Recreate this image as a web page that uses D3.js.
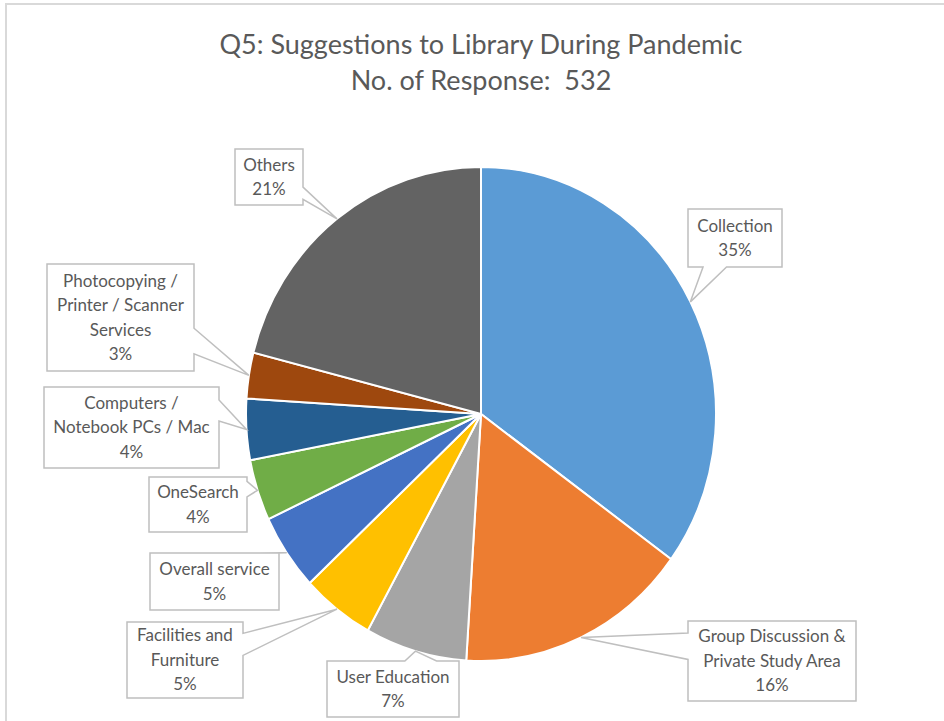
<!DOCTYPE html>
<html>
<head>
<meta charset="utf-8">
<script src="https://cdn.jsdelivr.net/npm/d3@7"></script>
<style>
  html, body { margin: 0; padding: 0; background: #fff; }
  svg { display: block; }
</style>
</head>
<body>
<div id="chart"></div>
<script>
// Data (clockwise from 12 o'clock)
const categories = [
    "Collection",
    "Group Discussion & Private Study Area",
    "User Education",
    "Facilities and Furniture",
    "Overall service",
    "OneSearch",
    "Computers / Notebook PCs / Mac",
    "Photocopying / Printer / Scanner Services",
    "Others"
];
const percents = [35, 16, 7, 5, 5, 4, 4, 3, 21];
const labelLines = [
    ["Collection"],
    ["Group Discussion &", "Private Study Area"],
    ["User Education"],
    ["Facilities and", "Furniture"],
    ["Overall service"],
    ["OneSearch"],
    ["Computers /", "Notebook PCs / Mac"],
    ["Photocopying /", "Printer / Scanner", "Services"],
    ["Others"]
];
const titleLines = ["Q5: Suggestions to Library During Pandemic", "No. of Response:  532"];

// Styling / layout
const colors = ["#5B9BD5", "#ED7D31", "#A5A5A5", "#FFC000", "#4472C4",
                "#70AD47", "#255E91", "#9E480E", "#636363"];
const width = 944, height = 721;
const cx = 481, cy = 414, rx = 235, ry = 247;

// callout boxes: x, y, w, h, side the pointer leaves from, pointer base fractions
const callouts = [
    { x: 688, y: 209, w: 94,  h: 58,  side: "bottom", base: [0.16, 0.41] },
    { x: 688, y: 621, w: 168, h: 80,  side: "left",   base: [0.15, 0.48] },
    { x: 327, y: 661, w: 132, h: 56,  side: "top",    base: [0.59, 0.83] },
    { x: 127, y: 622, w: 116, h: 76,  side: "right",  base: [0.15, 0.44] },
    { x: 150, y: 553, w: 129, h: 57,  side: "top",    base: [0.84, 0.99] },
    { x: 149, y: 477, w: 98,  h: 55,  side: "right",  base: [0.08, 0.36] },
    { x: 44,  y: 387, w: 175, h: 81,  side: "right",  base: [0.16, 0.42] },
    { x: 47,  y: 264, w: 147, h: 107, side: "right",  base: [0.6, 0.84] },
    { x: 235, y: 149, w: 68,  h: 56,  side: "right",  base: [0.68, 0.9] }
];

const font = "Lato, 'Open Sans', sans-serif";
const textColor = "#595959";

const svg = d3.select("#chart").append("svg")
    .attr("width", width)
    .attr("height", height);

// chart frame
svg.append("rect")
    .attr("x", 6).attr("y", 4)
    .attr("width", width + 20).attr("height", height + 20)
    .attr("fill", "#fff")
    .attr("stroke", "#d9d9d9")
    .attr("stroke-width", 2);

// title
svg.append("g").selectAll("text")
    .data(titleLines)
    .enter().append("text")
    .attr("x", 481)
    .attr("y", (d, i) => 54 + i * 36)
    .attr("text-anchor", "middle")
    .attr("font-family", font)
    .attr("font-size", 27)
    .attr("fill", textColor)
    .style("white-space", "pre")
    .text(d => d);

// pie
const pie = d3.pie().sort(null).value(d => d);
const arcs = pie(percents);
const arc = d3.arc().innerRadius(0).outerRadius(rx);

svg.append("g")
    .attr("transform", `translate(${cx},${cy}) scale(1,${ry / rx})`)
    .selectAll("path")
    .data(arcs)
    .enter().append("path")
    .attr("d", arc)
    .attr("fill", (d, i) => colors[i])
    .attr("stroke", "#fff")
    .attr("stroke-width", 2)
    .attr("vector-effect", "non-scaling-stroke");

// callout shape: rectangle with a wedge going to the anchor
function calloutPath(c, ax, ay) {
    const x0 = c.x, y0 = c.y, x1 = c.x + c.w, y1 = c.y + c.h;
    const pts = [];
    pts.push([x0, y0]);
    if (c.side === "top") {
        pts.push([x0 + c.base[0] * c.w, y0], [ax, ay], [x0 + c.base[1] * c.w, y0]);
    }
    pts.push([x1, y0]);
    if (c.side === "right") {
        pts.push([x1, y0 + c.base[0] * c.h], [ax, ay], [x1, y0 + c.base[1] * c.h]);
    }
    pts.push([x1, y1]);
    if (c.side === "bottom") {
        pts.push([x0 + c.base[1] * c.w, y1], [ax, ay], [x0 + c.base[0] * c.w, y1]);
    }
    pts.push([x0, y1]);
    if (c.side === "left") {
        pts.push([x0, y0 + c.base[1] * c.h], [ax, ay], [x0, y0 + c.base[0] * c.h]);
    }
    return "M" + pts.map(p => p.join(",")).join("L") + "Z";
}

const labels = svg.append("g")
    .selectAll("g")
    .data(arcs)
    .enter().append("g");

labels.append("path")
    .attr("d", (d, i) => {
        const a = (d.startAngle + d.endAngle) / 2;
        const ax = cx + rx * Math.sin(a);
        const ay = cy - ry * Math.cos(a);
        return calloutPath(callouts[i], ax, ay);
    })
    .attr("fill", "#fff")
    .attr("stroke", "#bfbfbf")
    .attr("stroke-width", 1.5)
    .attr("stroke-linejoin", "miter");

labels.each(function(d, i) {
    const c = callouts[i];
    const lines = labelLines[i].concat([d3.format(".0%")(d.value / 100)]);
    const lh = 24.5;
    const top = c.y + c.h / 2 - (lines.length * lh) / 2;
    d3.select(this).selectAll("text")
        .data(lines)
        .enter().append("text")
        .attr("x", c.x + c.w / 2)
        .attr("y", (t, j) => top + j * lh + lh / 2)
        .attr("dy", "0.35em")
        .attr("text-anchor", "middle")
        .attr("font-family", font)
        .attr("font-size", 17)
        .attr("fill", textColor)
        .text(t => t);
});
</script>
</body>
</html>
